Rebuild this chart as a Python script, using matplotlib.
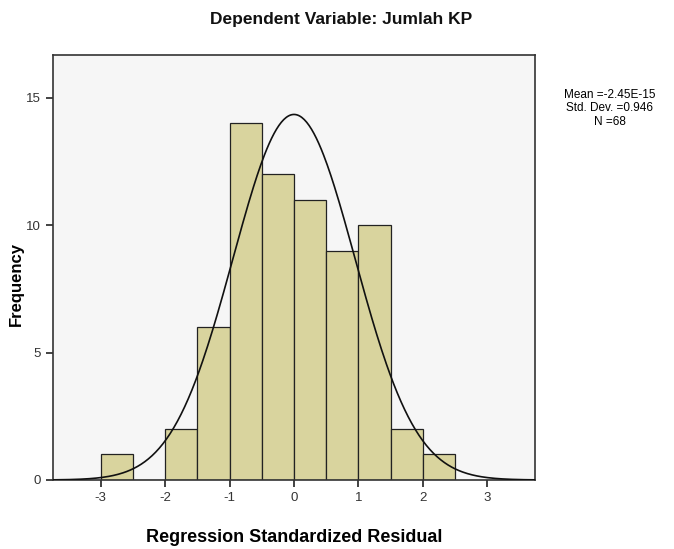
import numpy as np
import matplotlib
matplotlib.use('Agg')
import matplotlib.pyplot as plt

plt.rcParams['font.family'] = ['Liberation Sans', 'DejaVu Sans']
plt.rcParams['axes.unicode_minus'] = False

# histogram bins (width 0.5) and counts
bin_edges = [-3.0, -2.5, -2.0, -1.5, -1.0, -0.5, 0.0, 0.5, 1.0, 1.5, 2.0, 2.5]
counts = [1, 0, 2, 6, 14, 12, 11, 9, 10, 2, 1]
mean = -2.45e-15
std = 0.946
n = 68
x_ticks = [-3, -2, -1, 0, 1, 2, 3]
y_ticks = [0, 5, 10, 15]

fig = plt.figure(figsize=(6.74, 5.49), dpi=100)
ax = fig.add_axes([0.0786, 0.1257, 0.7152, 0.7741])
ax.set_facecolor('#f6f6f6')

lefts = bin_edges[:-1]
widths = np.diff(bin_edges)
ax.bar(lefts, counts, width=widths, align='edge', color='#d9d49e',
       edgecolor='#222222', linewidth=0.9, zorder=2)

# normal curve scaled to counts
xs = np.linspace(-3.74, 3.74, 400)
bw = 0.5
ys = n * bw / (std * np.sqrt(2 * np.pi)) * np.exp(-0.5 * ((xs - mean) / std) ** 2)
ax.plot(xs, ys, color='#111111', linewidth=1.2, zorder=3)

ax.set_xlim(-3.74, 3.74)
ax.set_ylim(0, 16.67)
ax.set_xticks(x_ticks)
ax.set_yticks(y_ticks)
ax.tick_params(direction='out', length=5, width=1.2, colors='#222222',
               labelsize=9.5, labelcolor='#333333')
for s in ax.spines.values():
    s.set_color('#333333')
    s.set_linewidth(1.2)

fig.text(0.506, 0.965, 'Dependent Variable: Jumlah KP', ha='center', va='center',
         fontsize=12.5, fontweight='bold', color='#111111')
ax.set_xlabel('Regression Standardized Residual', fontsize=13, fontweight='bold',
              labelpad=18)
fig.text(0.024, 0.483, 'Frequency', rotation=90, ha='center', va='center',
         fontsize=12, fontweight='bold')

fig.text(0.905, 0.803, 'Mean =-2.45E-15\nStd. Dev. =0.946\nN =68',
         ha='center', va='center', fontsize=8.5, linespacing=1.15)

fig.savefig('out.png', dpi=100)
